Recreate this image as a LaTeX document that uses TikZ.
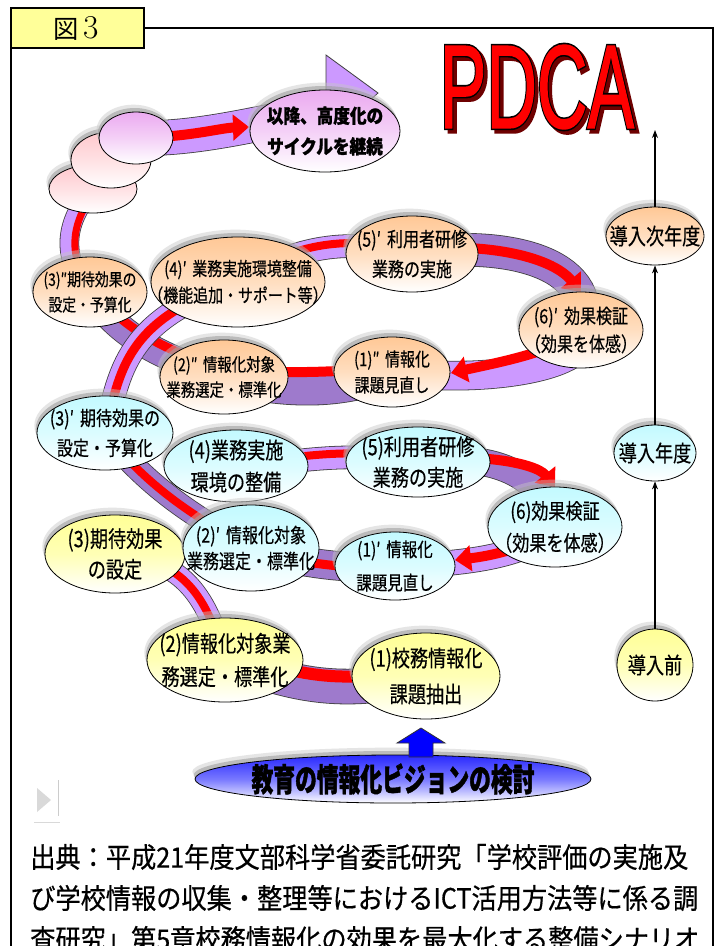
\documentclass[tikz,border=0pt]{standalone}
\usepackage{fontspec}
\usepackage{graphicx}
\usetikzlibrary{shapes.geometric,arrows.meta,shadows,calc}
\newfontfamily\jp{Noto Sans CJK JP}[FakeStretch=0.8, FakeBold=0.4]
\newfontfamily\jpn{Noto Sans CJK JP}
\newfontfamily\jpf{Noto Sans CJK JP}[FakeStretch=0.9, FakeBold=0.5]
\newfontfamily\jpb{Noto Sans CJK JP}[FakeStretch=0.68, FakeBold=1.2]
\newfontfamily\jpc{Noto Sans CJK JP}[FakeStretch=0.86, FakeBold=1.2]
\newfontfamily\arl{Liberation Sans}[FakeBold=1.2]
\newfontfamily\arlo{Liberation Sans}[FakeBold=4]
\newcommand\pdcaword{\scalebox{0.59}[1]{PDCA}}
\newcommand\pspace{\hspace{0.3em}}
\definecolor{peach}{RGB}{255,200,150}
\definecolor{cyanl}{RGB}{195,250,255}
\definecolor{yel}{RGB}{255,255,150}
\definecolor{lav}{RGB}{235,170,240}
\definecolor{pinkl}{RGB}{255,200,205}
\definecolor{bandD}{RGB}{158,122,204}
\definecolor{bandL}{RGB}{204,153,255}
\definecolor{vblue}{RGB}{40,40,255}
\definecolor{vmid}{RGB}{120,120,255}
\definecolor{labely}{RGB}{255,255,153}
\definecolor{pdsh}{RGB}{110,0,0}
\begin{document}
\begin{tikzpicture}[x=0.75pt,y=-0.75pt,
  ell/.style 2 args={ellipse, draw=black, line width=0.6pt, inner sep=0pt,
    minimum width=#1*1.5pt, minimum height=#2*1.5pt,
    drop shadow={shadow xshift=-2pt, shadow yshift=5.5pt, fill=gray!45, opacity=0.45},
    drop shadow={shadow xshift=-1pt, shadow yshift=3pt, fill=gray!75, opacity=0.6}},
  pe/.style={top color=peach, bottom color=white, middle color=peach!60!white},
  cy/.style={top color=cyanl, bottom color=white, middle color=cyanl!60!white},
  ye/.style={top color=yel, bottom color=white, middle color=yel!70!white},
  lv/.style={top color=lav, bottom color=white, middle color=lav!55!white},
  pk/.style={top color=pinkl, bottom color=white, middle color=pinkl!55!white},
  vb/.style={top color=vblue, bottom color=white, middle color=vmid},
  lb/.style 2 args={align=center, inner sep=0pt, font=\jp\fontsize{#1}{#2}\selectfont},
  lbb/.style={align=center, inner sep=0pt, font=\jpc\bfseries\fontsize{14.5}{23}\selectfont},
  band/.style 2 args={draw=#1, line width=#2*0.75pt,
    preaction={draw=black!75, line width=#2*0.75pt+1.2pt}},
  rstripe/.style={draw=red, line width=#1*0.75pt},
  rtip/.style={-{Triangle[length=12pt,width=19pt]}},
  conn/.style={line width=0.8pt, -{Stealth[length=6pt,width=4.5pt]}},
  pdf/.style={inner sep=0pt, font=\arl\fontsize{89}{89}\selectfont},
  pdfo/.style={inner sep=0pt, font=\arlo\fontsize{89}{89}\selectfont},
  foot/.style={anchor=west, inner sep=0pt, font=\jpf\fontsize{21}{21}\selectfont}
]
\useasboundingbox (0,0) rectangle (720,946);
\clip (0,0) rectangle (720,946);
\fill[white] (0,0) rectangle (720,946);

% frame and label
\draw[line width=1.5pt] (11,962) -- (11,28) -- (713,28) -- (713,962);
\node[draw, line width=1.5pt, fill=labely, minimum width=99.75pt, minimum height=30pt, inner sep=0pt] (fig) at (77.5,28) {};
\node[inner sep=0pt] (figt) at (76,28) {{\jpn\fontsize{19}{19}\selectfont 図}\hspace{3pt}{\fontsize{25}{25}\selectfont 3}};

% PDCA
\coordinate (pd) at (537,87);
\node[pdfo, text=pdsh] (ps) at ($(pd)+(3.5,3.5)$) {\pdcaword};
\node[pdfo, text=black] (po) at (pd) {\pdcaword};
\node[pdf, text=red] (pdca) at (pd) {\pdcaword};

% node centres
\coordinate (s3c) at (93,189);
\coordinate (s1c) at (136,138);
\coordinate (Lc) at (325,131);
\coordinate (c3ppc) at (90,292);
\coordinate (c4pc) at (238,282);
\coordinate (c5pc) at (412,254);
\coordinate (c6pc) at (581,330);
\coordinate (c1ppc) at (392,372);
\coordinate (c2ppc) at (224,377);
\coordinate (b3pc) at (105,433);
\coordinate (b4c) at (236,466);
\coordinate (b5c) at (418,462);
\coordinate (b6c) at (555,527);
\coordinate (b1pc) at (395,566);
\coordinate (b2pc) at (251,548);
\coordinate (a3c) at (115,554);
\coordinate (a2c) at (225,660);
\coordinate (a1c) at (426,676);

% top big arrow
\coordinate (hb) at (330,110);
\draw[band={bandL}{34}] (s1c) .. controls (200,140) and (270,120) .. (hb);
\draw[fill=bandL, draw=black!75, line width=0.6pt] ($(hb)+(-4,-55)$) -- ($(hb)+(48,-17)$) -- ($(hb)+(-4,30)$) -- cycle;
\draw[rstripe=10, rtip] (s1c) .. controls (190,137) and (220,128) .. (249,127);

% (3)'' -> stacked
\draw[band={bandL}{18}] (c3ppc) .. controls (62,260) and (62,225) .. (s3c);
\draw[rstripe=7] ($(c3ppc)+(4,0)$) .. controls (68,260) and (68,225) .. ($(s3c)+(4,0)$);

% (2)'' -> (3)''
\draw[band={bandD}{26}] (c2ppc) .. controls (170,360) and (120,340) .. (c3ppc);
\draw[rstripe=9] ($(c2ppc)+(0,-8)$) .. controls (170,352) and (120,330) .. ($(c3ppc)+(0,-8)$);

% (3)' -> (4)'
\draw[band={bandL}{22}] (b3pc) .. controls (120,370) and (125,320) .. (c4pc);
\draw[rstripe=9] (b3pc) .. controls (120,370) and (125,320) .. (c4pc);

% (4)' -> (5)'
\draw[band={bandL}{22}] (c4pc) .. controls (290,250) and (340,236) .. (c5pc);
\draw[rstripe=8] ($(c4pc)+(0,-3)$) .. controls (290,247) and (340,233) .. ($(c5pc)+(0,-3)$);

% (5)' -> (6)'
\draw[band={bandD}{32}] (c5pc) .. controls (500,240) and (600,260) .. (c6pc);
\draw[rstripe=10, rtip] ($(c5pc)+(0,-4)$) .. controls (480,242) and (550,255) .. (581,292);

% (6)' -> (1)''
\draw[band={bandL}{28}] (c6pc) .. controls (600,362) and (500,385) .. (c1ppc);
\draw[rstripe=10, rtip] (c6pc) .. controls (555,352) and (500,362) .. (451,373);

% (1)'' -> (2)''
\draw[band={bandD}{34}] (c1ppc) .. controls (340,392) and (290,392) .. (c2ppc);
\draw[rstripe=10] ($(c1ppc)+(0,-6)$) .. controls (340,373) and (290,373) .. ($(c2ppc)+(0,-6)$);

% (2)' -> (3)'
\draw[band={bandD}{22}] (b2pc) .. controls (200,520) and (150,490) .. (b3pc);
\draw[rstripe=8] (b2pc) .. controls (200,520) and (150,490) .. (b3pc);

% (4) -> (5)
\draw[band={bandL}{22}] (b4c) .. controls (290,465) and (330,450) .. (b5c);
\draw[rstripe=8] ($(b4c)+(0,-4)$) .. controls (290,461) and (330,446) .. ($(b5c)+(0,-4)$);

% (5) -> (6)
\draw[band={bandD}{26}] (b5c) .. controls (470,455) and (540,460) .. (b6c);
\draw[rstripe=10, rtip] (b5c) .. controls (470,452) and (535,462) .. (555,487);

% (6) -> (1)'
\draw[band={bandL}{24}] (b6c) .. controls (530,555) and (470,564) .. (b1pc);
\draw[rstripe=10, rtip] (b6c) .. controls (530,548) and (490,556) .. (455,560);

% (1)' -> (2)'
\draw[band={bandD}{28}] (b1pc) .. controls (360,570) and (300,565) .. (b2pc);
\draw[rstripe=9] (b1pc) .. controls (360,570) and (300,565) .. (b2pc);

% (2) -> (3)
\draw[band={bandL}{20}] (a3c) .. controls (180,560) and (205,590) .. (a2c);
\draw[rstripe=8] (a3c) .. controls (180,560) and (205,590) .. (a2c);

% (1) -> (2)
\draw[band={bandD}{34}] (a2c) .. controls (280,678) and (330,700) .. (a1c);
\draw[rstripe=12] ($(a2c)+(0,-10)$) .. controls (280,668) and (330,690) .. ($(a1c)+(0,-10)$);

% ---------- nodes ----------
\node[ell={44}{24}, pk] (s3) at (s3c) {};
\node[ell={40}{28}, pk] (s2) at (111,160) {};
\node[ell={37}{26}, lv] (s1) at (s1c) {};
\node[ell={75}{41}, lv, label={[lbb]center:{以降、高度化の\\サイクルを継続}}] (L) at (Lc) {};

\node[ell={57}{35}, pe, label={[lb={13}{19}]center:{(3)″期待効果の\\設定・予算化}}] (c3pp) at (c3ppc) {};
\node[ell={87}{45}, pe, label={[lb={14}{20}]center:{(4)′\pspace 業務実施環境整備\\（機能追加・サポート等）}}] (c4p) at (c4pc) {};
\node[ell={66}{38}, pe, label={[lb={15}{22.5}]center:{(5)′\pspace 利用者研修\\業務の実施}}] (c5p) at (c5pc) {};
\node[ell={62}{38}, pe, label={[lb={15}{21}]center:{(6)′\pspace 効果検証\\（効果を体感）}}] (c6p) at (c6pc) {};
\node[ell={58}{35}, pe, label={[lb={14}{19.5}]center:{(1)″\pspace 情報化\\課題見直し}}] (c1pp) at (c1ppc) {};
\node[ell={64}{37}, pe, label={[lb={13.5}{19}]center:{(2)″\pspace 情報化対象\\業務選定・標準化}}] (c2pp) at (c2ppc) {};

\node[ell={68}{37}, cy, label={[lb={15}{22.5}]center:{(3)′\pspace 期待効果の\\設定・予算化}}] (b3p) at (b3pc) {};
\node[ell={72}{36}, cy, label={[lb={17}{24}]center:{(4)業務実施\\環境の整備}}] (b4) at (b4c) {};
\node[ell={72}{35}, cy, label={[lb={17}{23}]center:{(5)利用者研修\\業務の実施}}] (b5) at (b5c) {};
\node[ell={67}{40}, cy, label={[lb={16}{24}]center:{(6)効果検証\\（効果を体感）}}] (b6) at (b6c) {};
\node[ell={60}{34}, cy, label={[lb={14.5}{25}]center:{(1)′\pspace 情報化\\課題見直し}}] (b1p) at (b1pc) {};
\node[ell={70}{39}, ye, label={[lb={17}{23}]center:{(3)期待効果\\の設定}}] (a3) at (a3c) {};
\node[ell={68}{43}, cy, label={[lb={15}{19.5}]center:{(2)′\pspace 情報化対象\\業務選定・標準化}}] (b2p) at (b2pc) {};
\node[ell={78}{42}, ye, label={[lb={17}{25}]center:{(2)情報化対象業\\務選定・標準化}}] (a2) at (a2c) {};
\node[ell={74}{43}, ye, label={[lb={17}{27}]center:{(1)校務情報化\\課題抽出}}] (a1) at (a1c) {};

% vision
\node[ell={198}{24}, vb, label={[inner sep=0pt, font=\jpb\bfseries\fontsize{24}{24}\selectfont]center:{教育の情報化ビジョンの検討}}] (V) at (393,779) {};
\coordinate (va) at (421,757);
\coordinate (vt) at (421,728);
\draw[fill=blue, draw=black!80, line width=0.6pt]
  ($(va)+(-12,0)$) -- ($(va)+(-12,-14)$) -- ($(va)+(-24,-14)$) -- (vt)
  -- ($(va)+(24,-14)$) -- ($(va)+(12,-14)$) -- ($(va)+(12,0)$) -- cycle;

% right column
\node[ell={49}{29}, pe, label={[lb={17}{20}]center:{導入次年度}}] (r3) at (655,236) {};
\node[ell={41}{28}, cy, label={[lb={17}{20}]center:{導入年度}}] (r2) at (655,453) {};
\node[ell={38}{36}, ye, label={[lb={17}{20}]center:{導入前}}] (r1) at (655,665) {};
\coordinate (rtop) at (655,130);
\draw[conn] (r1.north) -- (r2.south);
\draw[conn] (r2.north) -- (r3.south);
\draw[conn] (r3.north) -- (rtop);

% small grey mark
\fill[gray!30] (37,788) -- (51,800) -- (37,812) -- cycle;
\draw[gray!40, line width=0.5pt] (58,780) -- (58,816);
\draw[gray!30, line width=0.5pt] (34,822) -- (60,822);

% footer
\node[foot] (f1) at (30,857) {出典：平成21年度文部科学省委託研究「学校評価の実施及};
\node[foot] (f2) at (30,898) {び学校情報の収集・整理等におけるICT活用方法等に係る調};
\node[foot] (f3) at (30,939) {査研究」第5章校務情報化の効果を最大化する整備シナリオ};
\end{tikzpicture}
\end{document}
